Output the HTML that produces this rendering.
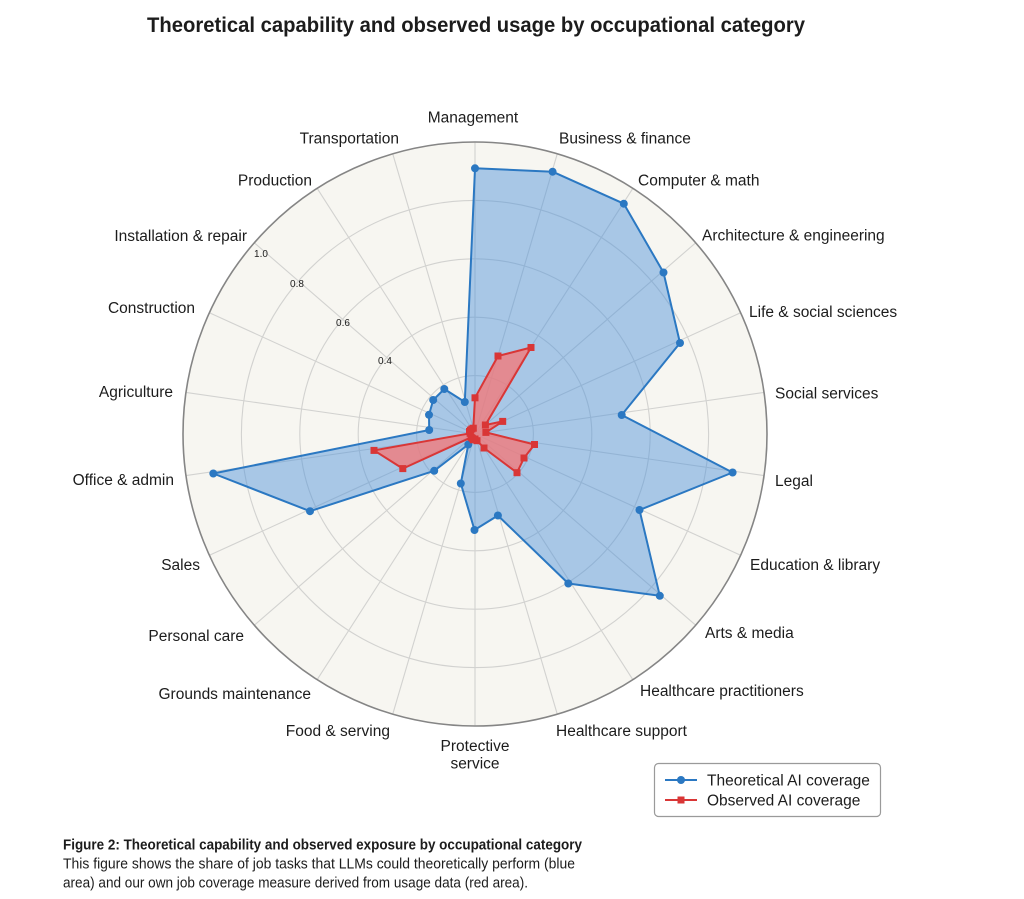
<!DOCTYPE html>
<html>
<head>
<meta charset="utf-8">
<style>
  html, body { margin:0; padding:0; background:#ffffff; }
  body { width:1024px; height:899px; overflow:hidden; }
  svg { display:block; }
  text { font-family: "Liberation Sans", "DejaVu Sans", sans-serif; fill:#1c1c1c; }
</style>
</head>
<body>
<svg width="1024" height="899" viewBox="0 0 1024 899" xmlns="http://www.w3.org/2000/svg">
  <!-- Title -->
  <text x="147" y="32" font-size="21" font-weight="bold" textLength="658" lengthAdjust="spacingAndGlyphs">Theoretical capability and observed usage by occupational category</text>

  <!-- Polar background -->
  <circle cx="475" cy="434" r="292" fill="#f7f6f1"/>

  <!-- Rings -->
  <g fill="none" stroke="#d2d2d0" stroke-width="1.1">
    <circle cx="475" cy="434" r="58.4"/>
    <circle cx="475" cy="434" r="116.8"/>
    <circle cx="475" cy="434" r="175.2"/>
    <circle cx="475" cy="434" r="233.6"/>
  </g>

  <!-- Spokes -->
  <g stroke="#d2d2d0" stroke-width="1.1">
    <line x1="475" y1="434" x2="475" y2="142"/>
    <line x1="475" y1="434" x2="557.27" y2="153.83"/>
    <line x1="475" y1="434" x2="632.87" y2="188.35"/>
    <line x1="475" y1="434" x2="695.68" y2="242.78"/>
    <line x1="475" y1="434" x2="740.61" y2="312.70"/>
    <line x1="475" y1="434" x2="764.03" y2="392.45"/>
    <line x1="475" y1="434" x2="764.03" y2="475.55"/>
    <line x1="475" y1="434" x2="740.61" y2="555.30"/>
    <line x1="475" y1="434" x2="695.68" y2="625.22"/>
    <line x1="475" y1="434" x2="632.87" y2="679.65"/>
    <line x1="475" y1="434" x2="557.27" y2="714.17"/>
    <line x1="475" y1="434" x2="475" y2="726"/>
    <line x1="475" y1="434" x2="392.73" y2="714.17"/>
    <line x1="475" y1="434" x2="317.13" y2="679.65"/>
    <line x1="475" y1="434" x2="254.32" y2="625.22"/>
    <line x1="475" y1="434" x2="209.39" y2="555.30"/>
    <line x1="475" y1="434" x2="185.97" y2="475.55"/>
    <line x1="475" y1="434" x2="185.97" y2="392.45"/>
    <line x1="475" y1="434" x2="209.39" y2="312.70"/>
    <line x1="475" y1="434" x2="254.32" y2="242.78"/>
    <line x1="475" y1="434" x2="317.13" y2="188.35"/>
    <line x1="475" y1="434" x2="392.73" y2="153.83"/>
  </g>

  <!-- Radial tick labels -->
  <g font-size="10" text-anchor="middle">
    <text x="261" y="257" fill="#333">1.0</text>
    <text x="297" y="287" fill="#333">0.8</text>
    <text x="343" y="326" fill="#333">0.6</text>
    <text x="385" y="364" fill="#333">0.4</text>
  </g>

  <!-- Blue series -->
  <polygon points="475,168.3 552.6,171.7 623.8,203.7 663.5,272.5 680,343 621.7,415 732.6,472.5 639.5,510 659.8,595.8 568.3,583.5 497.9,515.5 474.5,530 460.8,483.5 468.3,444.5 434.2,470.8 310,511.2 213.3,473.5 429.2,430 429,414.8 433.2,400 444.3,389 464.8,402"
    fill="#4a90d9" fill-opacity="0.46" stroke="#2b78c2" stroke-width="2" stroke-linejoin="round"/>

  <!-- Red series -->
  <polygon points="475,397.8 498,356 531,347.5 485.4,425 502.7,421.4 485.9,432.4 534.5,444.5 524,458 517,472.7 484,448 477,440.7 475,439 473.3,439.8 472.3,438.2 471.2,437.3 402.8,468.6 374,450.4 470.1,433.3 469.5,431.5 470.5,430.1 471.8,429 473.3,428.2"
    fill="#f47878" fill-opacity="0.78" stroke="#d93636" stroke-width="2" stroke-linejoin="round"/>

  <!-- Blue markers -->
  <g fill="#2b78c2">
    <circle cx="475" cy="168.3" r="4"/>
    <circle cx="552.6" cy="171.7" r="4"/>
    <circle cx="623.8" cy="203.7" r="4"/>
    <circle cx="663.5" cy="272.5" r="4"/>
    <circle cx="680" cy="343" r="4"/>
    <circle cx="621.7" cy="415" r="4"/>
    <circle cx="732.6" cy="472.5" r="4"/>
    <circle cx="639.5" cy="510" r="4"/>
    <circle cx="659.8" cy="595.8" r="4"/>
    <circle cx="568.3" cy="583.5" r="4"/>
    <circle cx="497.9" cy="515.5" r="4"/>
    <circle cx="474.5" cy="530" r="4"/>
    <circle cx="460.8" cy="483.5" r="4"/>
    <circle cx="468.3" cy="444.5" r="4"/>
    <circle cx="434.2" cy="470.8" r="4"/>
    <circle cx="310" cy="511.2" r="4"/>
    <circle cx="213.3" cy="473.5" r="4"/>
    <circle cx="429.2" cy="430" r="4"/>
    <circle cx="429" cy="414.8" r="4"/>
    <circle cx="433.2" cy="400" r="4"/>
    <circle cx="444.3" cy="389" r="4"/>
    <circle cx="464.8" cy="402" r="4"/>
  </g>

  <!-- Red markers -->
  <g fill="#d93636">
    <rect x="471.5" y="394.3" width="7" height="7"/>
    <rect x="494.5" y="352.5" width="7" height="7"/>
    <rect x="527.5" y="344" width="7" height="7"/>
    <rect x="481.9" y="421.5" width="7" height="7"/>
    <rect x="499.2" y="417.9" width="7" height="7"/>
    <rect x="482.4" y="428.9" width="7" height="7"/>
    <rect x="531" y="441" width="7" height="7"/>
    <rect x="520.5" y="454.5" width="7" height="7"/>
    <rect x="513.5" y="469.2" width="7" height="7"/>
    <rect x="480.5" y="444.5" width="7" height="7"/>
    <rect x="473.5" y="437.2" width="7" height="7"/>
    <rect x="471.5" y="435.5" width="7" height="7"/>
    <rect x="469.8" y="436.3" width="7" height="7"/>
    <rect x="468.8" y="434.7" width="7" height="7"/>
    <rect x="467.7" y="433.8" width="7" height="7"/>
    <rect x="399.3" y="465.1" width="7" height="7"/>
    <rect x="370.5" y="446.9" width="7" height="7"/>
    <rect x="466.6" y="429.8" width="7" height="7"/>
    <rect x="466" y="428" width="7" height="7"/>
    <rect x="467" y="426.6" width="7" height="7"/>
    <rect x="468.3" y="425.5" width="7" height="7"/>
    <rect x="469.8" y="424.7" width="7" height="7"/>
  </g>

  <!-- Outer circle -->
  <circle cx="475" cy="434" r="292" fill="none" stroke="#858585" stroke-width="1.6"/>

  <!-- Category labels -->
  <g font-size="15.5">
    <text x="473" y="122.5" text-anchor="middle">Management</text>
    <text x="559" y="143.5">Business &amp; finance</text>
    <text x="638" y="185.5">Computer &amp; math</text>
    <text x="702" y="240.5">Architecture &amp; engineering</text>
    <text x="749" y="317">Life &amp; social sciences</text>
    <text x="775" y="398.5">Social services</text>
    <text x="775" y="486">Legal</text>
    <text x="750" y="570">Education &amp; library</text>
    <text x="705" y="638">Arts &amp; media</text>
    <text x="640" y="696">Healthcare practitioners</text>
    <text x="556" y="736">Healthcare support</text>
    <text x="475" y="751" text-anchor="middle">Protective</text>
    <text x="475" y="768.5" text-anchor="middle">service</text>
    <text x="390" y="736" text-anchor="end">Food &amp; serving</text>
    <text x="311" y="699" text-anchor="end">Grounds maintenance</text>
    <text x="244" y="641" text-anchor="end">Personal care</text>
    <text x="200" y="570" text-anchor="end">Sales</text>
    <text x="174" y="485" text-anchor="end">Office &amp; admin</text>
    <text x="173" y="397" text-anchor="end">Agriculture</text>
    <text x="195" y="313" text-anchor="end">Construction</text>
    <text x="247" y="241" text-anchor="end">Installation &amp; repair</text>
    <text x="312" y="185.5" text-anchor="end">Production</text>
    <text x="399" y="143.5" text-anchor="end">Transportation</text>
  </g>

  <!-- Legend -->
  <rect x="654.5" y="763.5" width="226" height="53" rx="4" ry="4" fill="#ffffff" stroke="#9a9a9a" stroke-width="1.2"/>
  <line x1="665" y1="780" x2="697" y2="780" stroke="#2b78c2" stroke-width="2"/>
  <circle cx="681" cy="780" r="4" fill="#2b78c2"/>
  <line x1="665" y1="800" x2="697" y2="800" stroke="#d93636" stroke-width="2"/>
  <rect x="677.5" y="796.5" width="7" height="7" fill="#d93636"/>
  <text x="707" y="785.5" font-size="15.5">Theoretical AI coverage</text>
  <text x="707" y="805.5" font-size="15.5">Observed AI coverage</text>

  <!-- Caption -->
  <text x="63" y="849.5" font-size="14.5" font-weight="bold" textLength="519" lengthAdjust="spacingAndGlyphs">Figure 2: Theoretical capability and observed exposure by occupational category</text>
  <text x="63" y="868.5" font-size="14.5" textLength="512" lengthAdjust="spacingAndGlyphs" fill="#2a2a2a">This figure shows the share of job tasks that LLMs could theoretically perform (blue</text>
  <text x="63" y="887.5" font-size="14.5" textLength="465" lengthAdjust="spacingAndGlyphs" fill="#2a2a2a">area) and our own job coverage measure derived from usage data (red area).</text>
</svg>
</body>
</html>
